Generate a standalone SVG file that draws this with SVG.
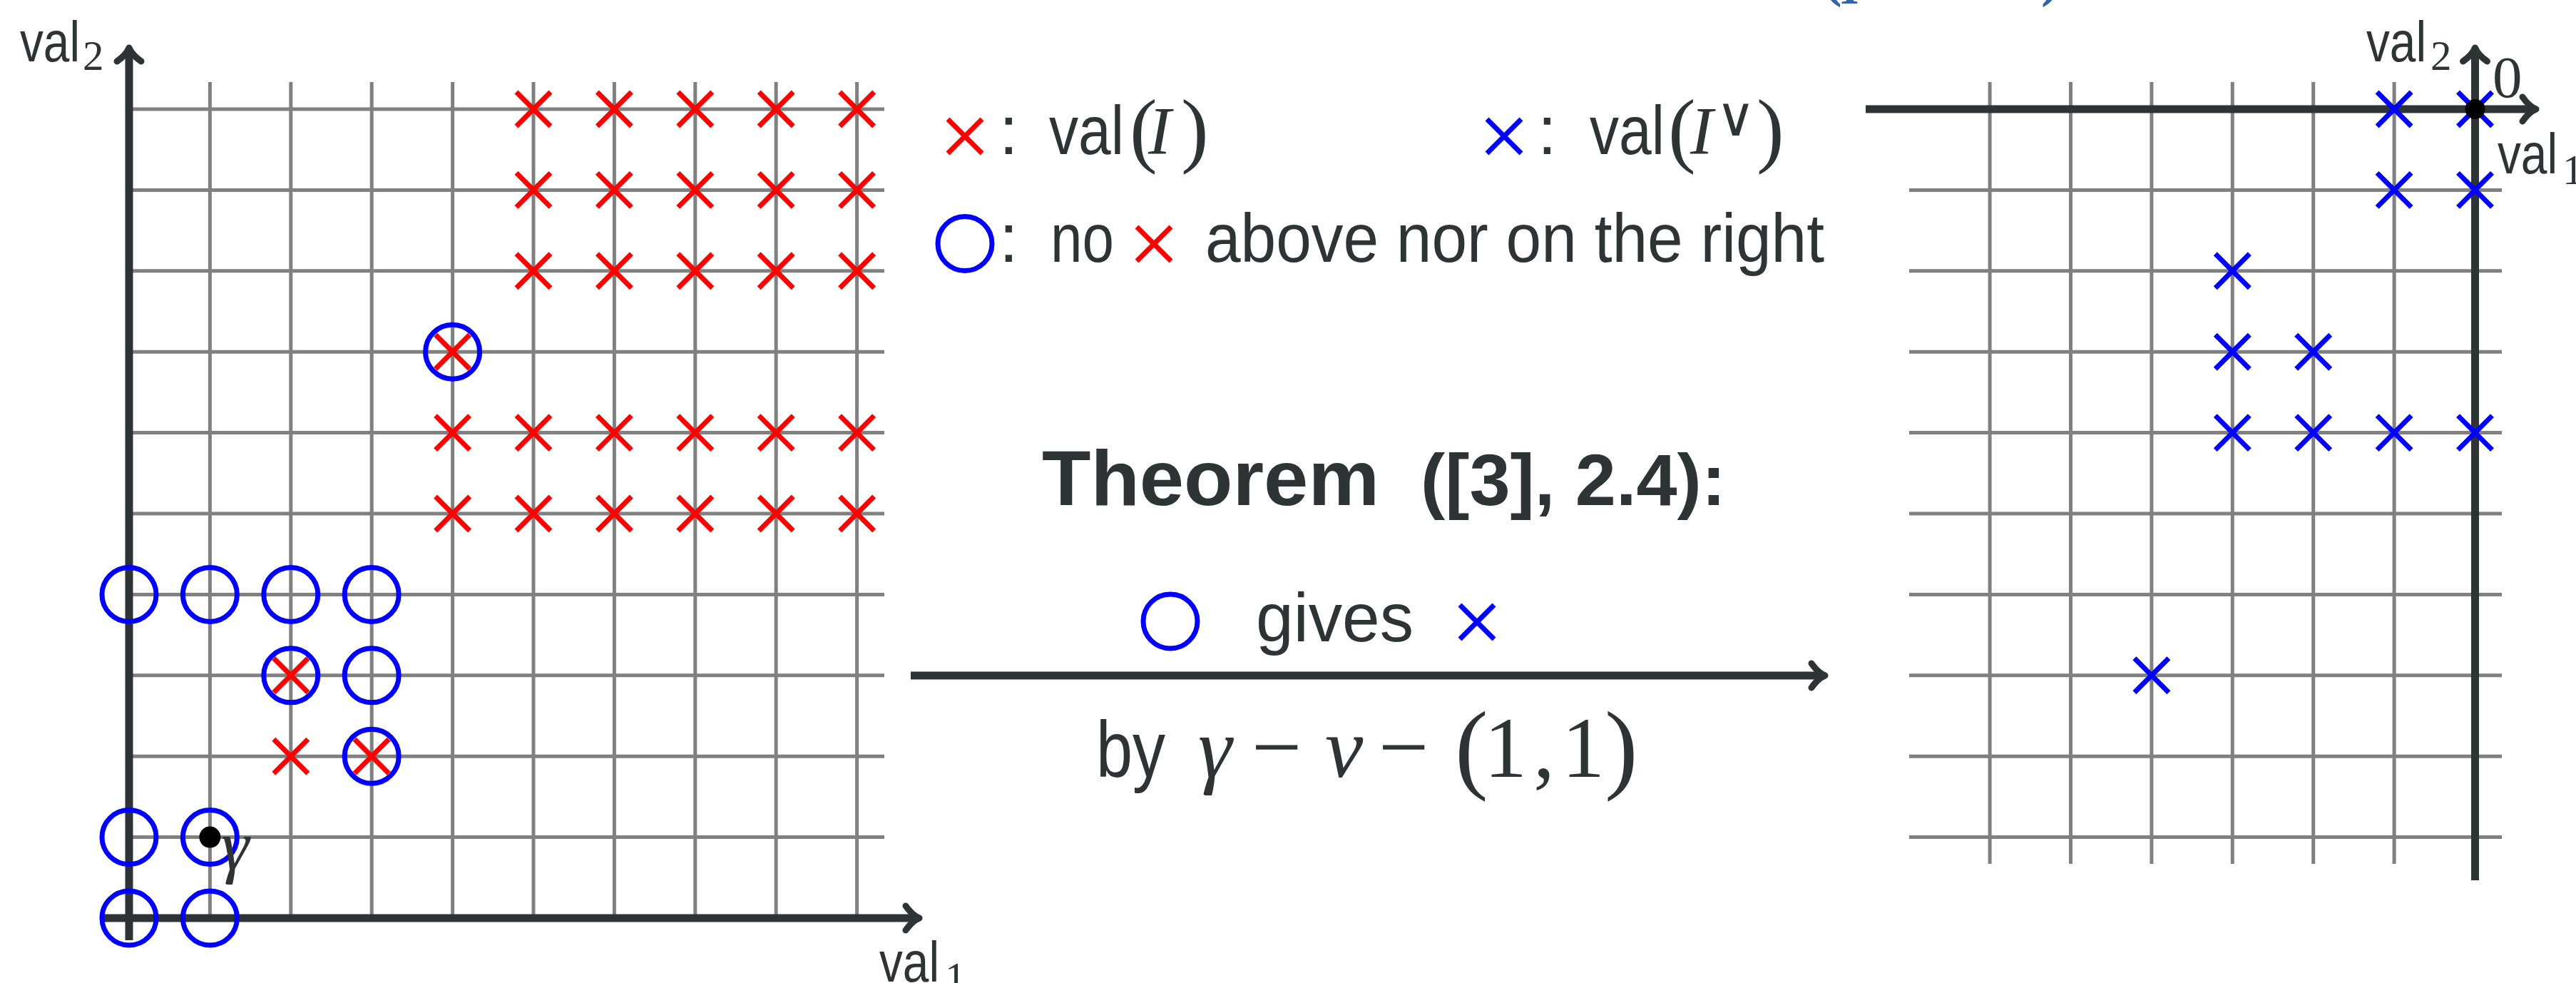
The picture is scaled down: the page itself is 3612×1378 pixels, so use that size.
<svg xmlns="http://www.w3.org/2000/svg" xmlns:xlink="http://www.w3.org/1999/xlink" width="3612" height="1378" viewBox="0 0 3612 1378">
<style>
.bg{fill:#ffffff}
.grid{stroke:#808080;stroke-width:5;fill:none}
.axis{stroke:#2e3436;stroke-width:11;fill:none;marker-end:url(#ah)}
.oc{fill:none;stroke:#0000ff;stroke-width:7}
.xr{stroke:#ff0000;stroke-width:7;fill:none}
.xb{stroke:#0000ff;stroke-width:7;fill:none}
.dot{fill:#000000}
.t{font-family:"Liberation Sans","DejaVu Sans",sans-serif;fill:#2e3436}
.m{font-family:"Liberation Serif","DejaVu Serif",serif;fill:#2e3436}
.mi{font-family:"Liberation Serif","DejaVu Serif",serif;font-style:italic;fill:#2e3436}
.lab{font-size:80px}
.sub{font-size:59px}
.leg{font-size:96px}
.ttl{fill:#3465a4;font-family:"Liberation Serif","DejaVu Serif",serif;font-weight:bold}
</style>
<defs>
<marker id="ah" markerUnits="userSpaceOnUse" orient="auto" refX="-8" refY="0" markerWidth="80" markerHeight="80" viewBox="-40 -40 80 80" overflow="visible">
<path d="M-19,-17 C-12,-7 -5,-2 0,0 C-5,2 -12,7 -19,17" fill="none" stroke="#2e3436" stroke-width="9" stroke-linecap="round" stroke-linejoin="round"/>
</marker>
<path id="xm" d="M-24,-24L24,24M-24,24L24,-24"/>
</defs>
<rect class="bg" x="0" y="0" width="3612" height="1378"/>

<!-- clipped blue title fragment at top -->
<g id="title-fragment">
<text class="ttl" x="2556" y="-7" font-size="80">(</text>
<text class="ttl" x="2583" y="5" font-size="70" font-style="italic">I</text>
<text class="ttl" x="2862" y="-7" font-size="80">)</text>
</g>

<g id="left-plot">
<g class="grid">
<path d="M294.4,115V1287M407.8,115V1287M521.2,115V1287M634.6,115V1287M748,115V1287M861.4,115V1287M974.8,115V1287M1088.2,115V1287M1201.6,115V1287"/>
<path d="M181,153H1240M181,266.4H1240M181,379.8H1240M181,493.2H1240M181,606.6H1240M181,720H1240M181,833.4H1240M181,946.8H1240M181,1060.2H1240M181,1173.6H1240"/>
</g>
<line class="axis" x1="181" y1="1318" x2="181" y2="75"/>
<line class="axis" x1="145" y1="1287" x2="1281" y2="1287"/>
<g id="left-circles">
<circle class="oc" cx="181" cy="1287" r="38"/>
<circle class="oc" cx="294.4" cy="1287" r="38"/>
<circle class="oc" cx="181" cy="1173.6" r="38"/>
<circle class="oc" cx="294.4" cy="1173.6" r="38"/>
<circle class="oc" cx="181" cy="833.4" r="38"/>
<circle class="oc" cx="294.4" cy="833.4" r="38"/>
<circle class="oc" cx="407.8" cy="833.4" r="38"/>
<circle class="oc" cx="521.2" cy="833.4" r="38"/>
<circle class="oc" cx="407.8" cy="946.8" r="38"/>
<circle class="oc" cx="521.2" cy="946.8" r="38"/>
<circle class="oc" cx="521.2" cy="1060.2" r="38"/>
<circle class="oc" cx="634.6" cy="493.2" r="38"/>
</g>
<g id="left-crosses" class="xr">
<use xlink:href="#xm" x="748" y="153"/><use xlink:href="#xm" x="861.4" y="153"/><use xlink:href="#xm" x="974.8" y="153"/><use xlink:href="#xm" x="1088.2" y="153"/><use xlink:href="#xm" x="1201.6" y="153"/>
<use xlink:href="#xm" x="748" y="266.4"/><use xlink:href="#xm" x="861.4" y="266.4"/><use xlink:href="#xm" x="974.8" y="266.4"/><use xlink:href="#xm" x="1088.2" y="266.4"/><use xlink:href="#xm" x="1201.6" y="266.4"/>
<use xlink:href="#xm" x="748" y="379.8"/><use xlink:href="#xm" x="861.4" y="379.8"/><use xlink:href="#xm" x="974.8" y="379.8"/><use xlink:href="#xm" x="1088.2" y="379.8"/><use xlink:href="#xm" x="1201.6" y="379.8"/>
<use xlink:href="#xm" x="634.6" y="493.2"/>
<use xlink:href="#xm" x="634.6" y="606.6"/><use xlink:href="#xm" x="748" y="606.6"/><use xlink:href="#xm" x="861.4" y="606.6"/><use xlink:href="#xm" x="974.8" y="606.6"/><use xlink:href="#xm" x="1088.2" y="606.6"/><use xlink:href="#xm" x="1201.6" y="606.6"/>
<use xlink:href="#xm" x="634.6" y="720"/><use xlink:href="#xm" x="748" y="720"/><use xlink:href="#xm" x="861.4" y="720"/><use xlink:href="#xm" x="974.8" y="720"/><use xlink:href="#xm" x="1088.2" y="720"/><use xlink:href="#xm" x="1201.6" y="720"/>
<use xlink:href="#xm" x="407.8" y="946.8"/>
<use xlink:href="#xm" x="407.8" y="1060.2"/><use xlink:href="#xm" x="521.2" y="1060.2"/>
</g>
<circle class="dot" cx="294.4" cy="1173.6" r="15"/>
<text class="mi" x="310" y="1219" font-size="100">γ</text>
<text class="t lab" x="28" y="86" textLength="84" lengthAdjust="spacingAndGlyphs">val</text>
<text class="m sub" x="116" y="98">2</text>
<text class="t lab" x="1233" y="1376" textLength="84" lengthAdjust="spacingAndGlyphs">val</text>
<text class="m sub" x="1325" y="1390">1</text>
</g>

<g id="legend">
<use class="xr" xlink:href="#xm" x="1353" y="191"/>
<text class="t leg" x="1401" y="216">:</text>
<text class="t leg" x="1471" y="216" textLength="105" lengthAdjust="spacingAndGlyphs">val</text>
<text class="m" x="1584" y="220" font-size="116">(</text>
<text class="mi" x="1610" y="216" font-size="96">I</text>
<text class="m" x="1656" y="220" font-size="116">)</text>

<use class="xb" xlink:href="#xm" x="2109" y="191"/>
<text class="t leg" x="2156" y="216">:</text>
<text class="t leg" x="2229" y="216" textLength="105" lengthAdjust="spacingAndGlyphs">val</text>
<text class="m" x="2339" y="220" font-size="116">(</text>
<text class="mi" x="2370" y="216" font-size="96">I</text>
<text x="2406" y="190" font-size="76" font-weight="200" font-family="'DejaVu Sans','DejaVu Serif',sans-serif" fill="#2e3436">∨</text>
<text class="m" x="2463" y="220" font-size="116">)</text>

<circle class="oc" cx="1353" cy="341.5" r="38"/>
<text class="t leg" x="1401" y="367">:</text>
<text class="t leg" x="1473" y="367" textLength="89" lengthAdjust="spacingAndGlyphs">no</text>
<use class="xr" xlink:href="#xm" x="1618" y="342"/>
<text class="t leg" x="1690" y="367" textLength="868" lengthAdjust="spacingAndGlyphs">above nor on the right</text>
</g>

<g id="theorem">
<text class="t" x="1461" y="708" font-size="110" font-weight="bold" textLength="473" lengthAdjust="spacingAndGlyphs">Theorem</text>
<text class="t" x="1992" y="708" font-size="102" font-weight="bold" textLength="428" lengthAdjust="spacingAndGlyphs">([3], 2.4):</text>
</g>

<g id="connectors">
<line class="axis" x1="1277" y1="947" x2="2551" y2="947" stroke-width="12"/>
</g>

<g id="arrow-labels">
<circle class="oc" cx="1641" cy="871" r="38"/>
<text class="t leg" x="1761" y="899" textLength="221" lengthAdjust="spacingAndGlyphs">gives</text>
<use class="xb" xlink:href="#xm" x="2071" y="872"/>
<text class="t" x="1537" y="1089" font-size="112" textLength="97" lengthAdjust="spacingAndGlyphs">by</text>
<text class="mi" x="1680" y="1089" font-size="120">γ</text>
<text class="m" x="1755" y="1089" font-size="125">−</text>
<text class="mi" x="1858" y="1089" font-size="120">v</text>
<text class="m" x="1933" y="1089" font-size="125">−</text>
<text class="m" x="2040" y="1094" font-size="140">(</text>
<text class="m" x="2081" y="1089" font-size="120">1</text>
<text class="m" x="2150" y="1089" font-size="120">,</text>
<text class="m" x="2190" y="1089" font-size="120">1</text>
<text class="m" x="2250" y="1094" font-size="140">)</text>
</g>

<g id="right-plot">
<g class="grid">
<path d="M2790.1,115V1211M2903.5,115V1211M3016.9,115V1211M3130.3,115V1211M3243.7,115V1211M3357.1,115V1211"/>
<path d="M2677,266.4H3508M2677,379.8H3508M2677,493.2H3508M2677,606.6H3508M2677,720H3508M2677,833.4H3508M2677,946.8H3508M2677,1060.2H3508M2677,1173.6H3508"/>
</g>
<line class="axis" x1="2616" y1="153" x2="3548" y2="153"/>
<line class="axis" x1="3470.5" y1="1234" x2="3470.5" y2="75"/>
<g id="right-crosses" class="xb">
<use xlink:href="#xm" x="3357.1" y="153"/><use xlink:href="#xm" x="3470.5" y="153"/>
<use xlink:href="#xm" x="3357.1" y="266.4"/><use xlink:href="#xm" x="3470.5" y="266.4"/>
<use xlink:href="#xm" x="3130.3" y="379.8"/>
<use xlink:href="#xm" x="3130.3" y="493.2"/><use xlink:href="#xm" x="3243.7" y="493.2"/>
<use xlink:href="#xm" x="3130.3" y="606.6"/><use xlink:href="#xm" x="3243.7" y="606.6"/><use xlink:href="#xm" x="3357.1" y="606.6"/><use xlink:href="#xm" x="3470.5" y="606.6"/>
<use xlink:href="#xm" x="3016.9" y="946.8"/>
</g>
<circle class="dot" cx="3470.5" cy="153" r="14"/>
<text class="t lab" x="3318" y="86" textLength="84" lengthAdjust="spacingAndGlyphs">val</text>
<text class="m sub" x="3408" y="98">2</text>
<text class="m" x="3495" y="136" font-size="83">0</text>
<text class="t lab" x="3502" y="243" textLength="84" lengthAdjust="spacingAndGlyphs">val</text>
<text class="m sub" x="3593" y="258">1</text>
</g>
</svg>
